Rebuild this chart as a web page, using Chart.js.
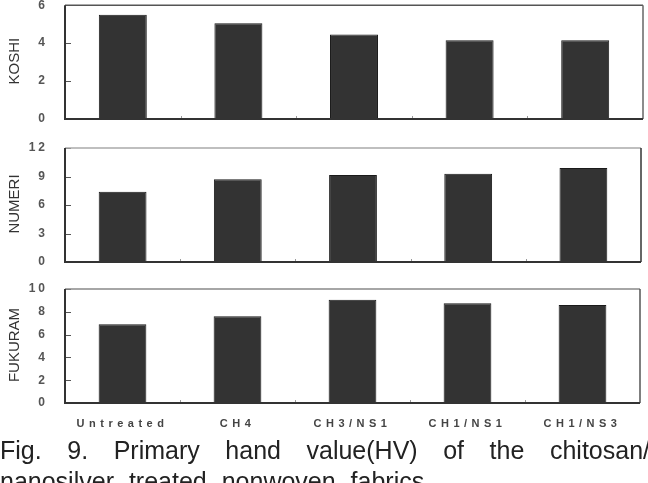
<!DOCTYPE html>
<html>
<head>
<meta charset="utf-8">
<script src="https://cdn.jsdelivr.net/npm/chart.js@4.4.0/dist/chart.umd.min.js"></script>
<style>
  html, body { margin: 0; padding: 0; background: #fff; }
  body { width: 648px; height: 483px; position: relative; overflow: hidden; }
  .panel { position: absolute; left: 0; width: 648px; }
  .cap {
    position: absolute; left: 0; white-space: nowrap;
    font-family: "Liberation Sans", Arial, sans-serif;
    font-size: 25px; line-height: 30px; color: #222;
  }
  #cap1 { top: 435px; width: 650px; text-align: justify; text-align-last: justify; }
  #cap2 { top: 466px; word-spacing: 8px; }
</style>
</head>
<body>
<div class="panel" style="top:-2px;height:132px"><canvas id="c1"></canvas></div>
<div class="panel" style="top:135px;height:135px"><canvas id="c2"></canvas></div>
<div class="panel" style="top:270px;height:170px"><canvas id="c3"></canvas></div>
<div class="cap" id="cap1">Fig. 9. Primary hand value(HV) of the chitosan/</div>
<div class="cap" id="cap2">nanosilver treated nonwoven fabrics</div>
<script>
const categories = ["Untreated", "CH4", "CH3/NS1", "CH1/NS1", "CH1/NS3"];
const koshi   = [5.5, 5.05, 4.45, 4.15, 4.15];
const numeri  = [7.4, 8.7, 9.15, 9.3, 9.9];
const fukuram = [6.9, 7.6, 9.05, 8.75, 8.6];
const axisTitles = ["KOSHI", "NUMERI", "FUKURAM"];
const yMax = [6, 12, 10];
const yStep = [2, 3, 2];

const tickFont = { family: '"Liberation Sans", Arial, sans-serif', size: 12, weight: 'bold' };

const framePlugin = {
  id: 'frame',
  beforeDraw(chart) { chart.ctx.letterSpacing = '3px'; },
  afterDatasetsDraw(chart) { chart.ctx.letterSpacing = '4.5px'; },
  afterDraw(chart, args, opts) {
    const ctx = chart.ctx;
    const a = chart.chartArea;
    const ys = chart.scales.y, xs = chart.scales.x;
    ctx.save();
    ctx.letterSpacing = '0px';
    // inward y tick marks
    ctx.strokeStyle = '#555'; ctx.lineWidth = 1;
    ys.ticks.forEach(t => {
      const py = Math.round(ys.getPixelForValue(t.value)) + 0.5;
      ctx.beginPath(); ctx.moveTo(a.left, py); ctx.lineTo(a.left + 6, py); ctx.stroke();
    });
    // small inward x marks at category boundaries
    ctx.strokeStyle = '#999';
    for (let i = 1; i < categories.length; i++) {
      const px = Math.round((xs.getPixelForValue(i - 1) + xs.getPixelForValue(i)) / 2) + 0.5;
      ctx.beginPath(); ctx.moveTo(px, a.bottom); ctx.lineTo(px, a.bottom - 3); ctx.stroke();
    }
    // frame
    ctx.lineWidth = 1.5;
    ctx.strokeStyle = opts.topColor;
    ctx.beginPath(); ctx.moveTo(a.left, a.top); ctx.lineTo(a.right, a.top); ctx.stroke();
    ctx.strokeStyle = opts.rightColor;
    ctx.beginPath(); ctx.moveTo(a.right, a.top); ctx.lineTo(a.right, a.bottom); ctx.stroke();
    ctx.lineWidth = 2;
    ctx.strokeStyle = '#333';
    ctx.beginPath(); ctx.moveTo(a.left, a.top); ctx.lineTo(a.left, a.bottom); ctx.lineTo(a.right, a.bottom); ctx.stroke();
    // rotated axis title
    ctx.fillStyle = '#333';
    ctx.font = '15px "Liberation Sans", Arial, sans-serif';
    ctx.textAlign = 'center'; ctx.textBaseline = 'middle';
    ctx.translate(15, (a.top + a.bottom) / 2 - 1);
    ctx.rotate(-Math.PI / 2);
    ctx.fillText(opts.title, 0, 0);
    ctx.restore();
  }
};

function makePanel(id, values, idx, pad, xHeight, showX, topColor, rightColor) {
  return new Chart(document.getElementById(id), {
    type: 'bar',
    data: {
      labels: categories,
      datasets: [{
        data: values,
        backgroundColor: '#333333',
        borderColor: '#1a1a1a',
        borderWidth: 1,
        barPercentage: 0.415,
        categoryPercentage: 1.0
      }]
    },
    options: {
      responsive: true,
      maintainAspectRatio: false,
      animation: false,
      layout: { padding: pad },
      plugins: {
        legend: { display: false },
        tooltip: { enabled: false },
        frame: { title: axisTitles[idx], topColor, rightColor }
      },
      scales: {
        x: {
          grid: { display: false, drawTicks: false },
          border: { display: false },
          ticks: {
            display: showX, autoSkip: false, maxRotation: 0, minRotation: 0,
            padding: 14, color: '#444',
            font: { family: '"Liberation Sans", Arial, sans-serif', size: 11, weight: 'bold' },
            z: 1
          },
          afterFit(s) { s.height = xHeight; }
        },
        y: {
          min: 0, max: yMax[idx],
          grid: { display: true, drawOnChartArea: false, drawTicks: true, tickLength: 17, color: 'rgba(0,0,0,0)' },
          border: { display: false },
          ticks: { stepSize: yStep[idx], padding: 0, color: '#555', font: tickFont },
          afterFit(s) { s.width = 65; }
        }
      }
    },
    plugins: [framePlugin]
  });
}

makePanel('c1', koshi, 0, { top: 7, right: 5, left: 0, bottom: 0 }, 11, false, '#555', '#666');
makePanel('c2', numeri, 1, { top: 13, right: 7, left: 0, bottom: 0 }, 8, false, '#aaa', '#333');
makePanel('c3', fukuram, 2, { top: 19, right: 8, left: 0, bottom: 0 }, 37, true, '#888', '#555');
</script>
</body>
</html>
